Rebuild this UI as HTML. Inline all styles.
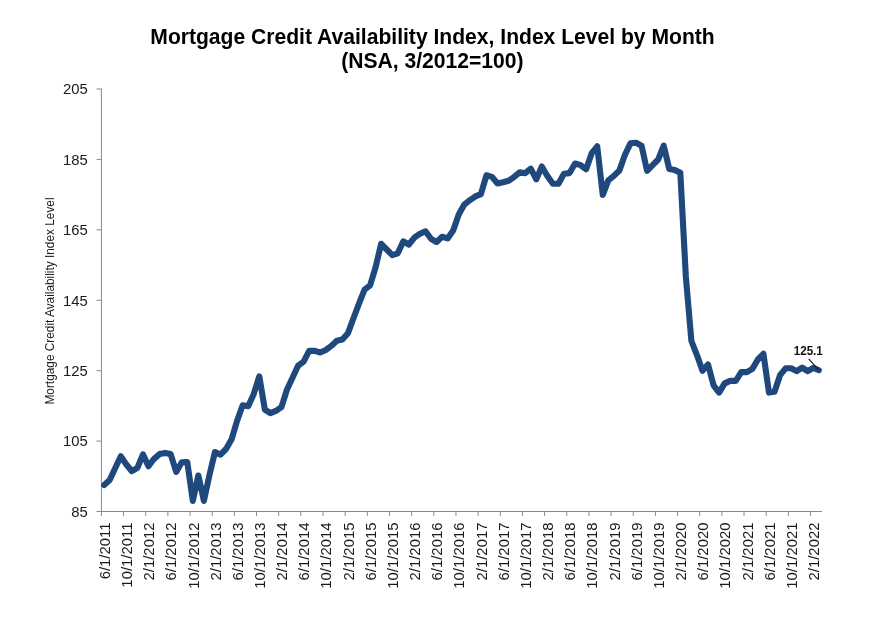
<!DOCTYPE html>
<html lang="en"><head><meta charset="utf-8"><title>Mortgage Credit Availability Index</title>
<style>
html,body{margin:0;padding:0;background:#fff;}
body{width:876px;height:640px;overflow:hidden;}
svg{display:block;filter:blur(0.35px);font-family:"Liberation Sans",Arial,Helvetica,sans-serif;}
.t{font-weight:bold;font-size:21.1px;fill:#000;text-anchor:middle;}
.yl{font-size:14.85px;fill:#1a1a1a;text-anchor:end;}
.xl{font-size:14.9px;fill:#1a1a1a;text-anchor:end;}
.yt{font-size:11.85px;fill:#1a1a1a;text-anchor:middle;}
.dl{font-size:11.6px;font-weight:bold;fill:#111;}
.ax{stroke:#8a8a8a;stroke-width:1;fill:none;}
</style></head><body>
<svg width="876" height="640" viewBox="0 0 876 640">
<rect width="876" height="640" fill="#fff"/>
<text class="t" transform="translate(432.5 43.9) scale(1 1.03)">Mortgage Credit Availability Index, Index Level by Month</text>
<text class="t" transform="translate(432.3 67.8) scale(1 1.03)">(NSA, 3/2012=100)</text>
<path class="ax" d="M101.4 88.5V516M96.5 511.5H822M96.5 441.08H101.4M96.5 370.67H101.4M96.5 300.25H101.4M96.5 229.84H101.4M96.5 159.42H101.4M96.5 89.00H101.4M123.56 511.5V516M145.72 511.5V516M167.88 511.5V516M190.04 511.5V516M212.20 511.5V516M234.36 511.5V516M256.52 511.5V516M278.68 511.5V516M300.84 511.5V516M323.00 511.5V516M345.16 511.5V516M367.32 511.5V516M389.48 511.5V516M411.64 511.5V516M433.80 511.5V516M455.96 511.5V516M478.12 511.5V516M500.28 511.5V516M522.44 511.5V516M544.60 511.5V516M566.76 511.5V516M588.92 511.5V516M611.08 511.5V516M633.24 511.5V516M655.40 511.5V516M677.56 511.5V516M699.72 511.5V516M721.88 511.5V516M744.04 511.5V516M766.20 511.5V516M788.36 511.5V516M810.52 511.5V516"/>
<text class="yl" transform="translate(87.8 516.8) scale(1 1.03)">85</text>
<text class="yl" transform="translate(87.8 446.4) scale(1 1.03)">105</text>
<text class="yl" transform="translate(87.8 376.0) scale(1 1.03)">125</text>
<text class="yl" transform="translate(87.8 305.6) scale(1 1.03)">145</text>
<text class="yl" transform="translate(87.8 235.1) scale(1 1.03)">165</text>
<text class="yl" transform="translate(87.8 164.7) scale(1 1.03)">185</text>
<text class="yl" transform="translate(87.8 94.3) scale(1 1.03)">205</text>
<text class="xl" transform="translate(109.87 522.5) rotate(-90) scale(1 1.03)">6/1/2011</text>
<text class="xl" transform="translate(132.03 522.5) rotate(-90) scale(1 1.03)">10/1/2011</text>
<text class="xl" transform="translate(154.19 522.5) rotate(-90) scale(1 1.03)">2/1/2012</text>
<text class="xl" transform="translate(176.35 522.5) rotate(-90) scale(1 1.03)">6/1/2012</text>
<text class="xl" transform="translate(198.51 522.5) rotate(-90) scale(1 1.03)">10/1/2012</text>
<text class="xl" transform="translate(220.67 522.5) rotate(-90) scale(1 1.03)">2/1/2013</text>
<text class="xl" transform="translate(242.83 522.5) rotate(-90) scale(1 1.03)">6/1/2013</text>
<text class="xl" transform="translate(264.99 522.5) rotate(-90) scale(1 1.03)">10/1/2013</text>
<text class="xl" transform="translate(287.15 522.5) rotate(-90) scale(1 1.03)">2/1/2014</text>
<text class="xl" transform="translate(309.31 522.5) rotate(-90) scale(1 1.03)">6/1/2014</text>
<text class="xl" transform="translate(331.47 522.5) rotate(-90) scale(1 1.03)">10/1/2014</text>
<text class="xl" transform="translate(353.63 522.5) rotate(-90) scale(1 1.03)">2/1/2015</text>
<text class="xl" transform="translate(375.79 522.5) rotate(-90) scale(1 1.03)">6/1/2015</text>
<text class="xl" transform="translate(397.95 522.5) rotate(-90) scale(1 1.03)">10/1/2015</text>
<text class="xl" transform="translate(420.11 522.5) rotate(-90) scale(1 1.03)">2/1/2016</text>
<text class="xl" transform="translate(442.27 522.5) rotate(-90) scale(1 1.03)">6/1/2016</text>
<text class="xl" transform="translate(464.43 522.5) rotate(-90) scale(1 1.03)">10/1/2016</text>
<text class="xl" transform="translate(486.59 522.5) rotate(-90) scale(1 1.03)">2/1/2017</text>
<text class="xl" transform="translate(508.75 522.5) rotate(-90) scale(1 1.03)">6/1/2017</text>
<text class="xl" transform="translate(530.91 522.5) rotate(-90) scale(1 1.03)">10/1/2017</text>
<text class="xl" transform="translate(553.07 522.5) rotate(-90) scale(1 1.03)">2/1/2018</text>
<text class="xl" transform="translate(575.23 522.5) rotate(-90) scale(1 1.03)">6/1/2018</text>
<text class="xl" transform="translate(597.39 522.5) rotate(-90) scale(1 1.03)">10/1/2018</text>
<text class="xl" transform="translate(619.55 522.5) rotate(-90) scale(1 1.03)">2/1/2019</text>
<text class="xl" transform="translate(641.71 522.5) rotate(-90) scale(1 1.03)">6/1/2019</text>
<text class="xl" transform="translate(663.87 522.5) rotate(-90) scale(1 1.03)">10/1/2019</text>
<text class="xl" transform="translate(686.03 522.5) rotate(-90) scale(1 1.03)">2/1/2020</text>
<text class="xl" transform="translate(708.19 522.5) rotate(-90) scale(1 1.03)">6/1/2020</text>
<text class="xl" transform="translate(730.35 522.5) rotate(-90) scale(1 1.03)">10/1/2020</text>
<text class="xl" transform="translate(752.51 522.5) rotate(-90) scale(1 1.03)">2/1/2021</text>
<text class="xl" transform="translate(774.67 522.5) rotate(-90) scale(1 1.03)">6/1/2021</text>
<text class="xl" transform="translate(796.83 522.5) rotate(-90) scale(1 1.03)">10/1/2021</text>
<text class="xl" transform="translate(818.99 522.5) rotate(-90) scale(1 1.03)">2/1/2022</text>
<text class="yt" transform="translate(53.7 301) rotate(-90) scale(1 1.03)">Mortgage Credit Availability Index Level</text>
<polyline points="104.17,485.0 109.71,480.0 115.25,468.0 120.79,456.3 126.33,464.5 131.87,471.2 137.41,467.9 142.95,454.4 148.49,466.3 154.03,458.8 159.57,454.1 165.11,452.9 170.65,454.1 176.19,471.9 181.73,462.3 187.27,462.0 192.81,500.9 198.35,475.5 203.89,500.9 209.43,475.2 214.97,452.0 220.51,454.7 226.05,449.0 231.59,439.3 237.13,420.7 242.67,405.2 248.21,406.2 253.75,393.9 259.29,376.3 264.83,409.6 270.37,413.1 275.91,410.9 281.45,407.1 286.99,389.5 292.53,377.8 298.07,365.8 303.61,361.6 309.15,350.9 314.69,350.9 320.23,352.5 325.77,350.0 331.31,345.9 336.85,340.8 342.39,339.6 347.93,333.3 353.47,318.2 359.01,303.5 364.55,289.7 370.09,285.3 375.63,267.1 381.17,243.8 386.71,249.5 392.25,255.2 397.79,253.3 403.33,241.3 408.87,244.5 414.41,237.6 419.95,233.8 425.49,231.3 431.03,238.8 436.57,242.0 442.11,236.8 447.65,238.4 453.19,230.5 458.73,214.6 464.27,204.6 469.81,200.2 475.35,196.4 480.89,194.1 486.43,175.3 491.97,176.9 497.51,183.5 503.05,182.3 508.59,180.7 514.13,176.9 519.67,172.3 525.21,173.2 530.75,168.7 536.29,179.4 541.83,166.5 547.37,176.0 552.91,183.8 558.45,183.8 563.99,173.7 569.53,173.1 575.07,163.5 580.61,165.2 586.15,169.3 591.69,153.2 597.23,146.3 602.77,195.0 608.31,180.3 613.85,175.9 619.39,170.5 624.93,154.8 630.47,143.4 636.01,142.7 641.55,145.7 647.09,170.8 652.63,165.2 658.17,159.5 663.71,145.7 669.25,169.0 674.79,170.0 680.33,172.8 685.87,277.0 691.41,341.0 696.95,355.1 702.49,370.8 708.03,364.5 713.57,385.3 719.11,392.6 724.65,383.4 730.19,380.9 735.73,380.9 741.27,372.1 746.81,372.1 752.35,368.9 757.89,359.5 763.43,353.8 768.97,392.6 774.51,391.8 780.05,375.2 785.59,368.3 791.13,368.3 796.67,371.1 802.21,367.6 807.75,371.1 813.29,367.8 818.83,370.2" fill="none" stroke="#1f497d" stroke-width="6.1" stroke-linejoin="round" stroke-linecap="round"/>
<path d="M808.7 358.9L818.6 369.9" stroke="#1a1a1a" stroke-width="1.15" fill="none"/>
<text class="dl" transform="translate(793.8 354.9) scale(1 1.05)">125.1</text>
</svg></body></html>
